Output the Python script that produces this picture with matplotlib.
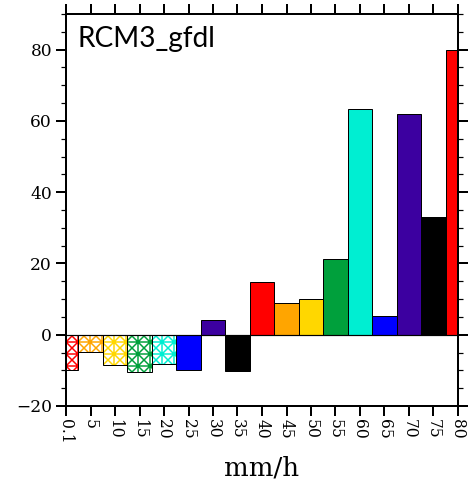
import numpy as np
import matplotlib
matplotlib.use("Agg")
import matplotlib.pyplot as plt
from matplotlib.ticker import MultipleLocator

# Precipitation-intensity bins (mm/h) and the change in each bin
bins = ["0.1", "5", "10", "15", "20", "25", "30", "35", "40",
        "45", "50", "55", "60", "65", "70", "75", "80"]
change = [-10.0, -4.8, -8.5, -10.5, -8.3, -10.0, 4.2, -10.3, 14.9,
          9.0, 10.0, 21.3, 63.3, 5.3, 61.8, 33.0, 80.0]
colors = ["#ff0000", "#ffa500", "#ffd700", "#00a03c", "#00eed2", "#0000ff",
          "#3c00a0", "#000000", "#ff0000", "#ffa500", "#ffd700", "#00a03c",
          "#00eed2", "#0000ff", "#3c00a0", "#000000", "#ff0000"]
hatched = [True, True, True, True, True, False, False, False, False,
           False, False, False, False, False, False, False, False]
panel_label = "RCM3_gfdl"
x_label = "mm/h"

plt.rcParams["hatch.linewidth"] = 1.5

W, H, DPI = 475, 483, 72
fig = plt.figure(figsize=(W / DPI, H / DPI), dpi=DPI)
ax = fig.add_axes([66 / W, (H - 406) / H, 392 / W, 392 / H])

x = np.arange(len(bins))
for xi, v, c, h in zip(x, change, colors, hatched):
    if h:
        # square grid with a cross in every cell
        ax.bar(xi, v, width=1.0, facecolor="white", edgecolor=c,
               hatch="xx+", linewidth=0, zorder=2)
        ax.bar(xi, v, width=1.0, facecolor="none", edgecolor="black",
               linewidth=1.0, zorder=3)
    else:
        ax.bar(xi, v, width=1.0, facecolor=c, edgecolor="black",
               linewidth=1.0, zorder=2)

ax.set_xlim(0, len(bins) - 1)
ax.set_ylim(-20, 90)
ax.set_xticks(x)
ax.set_xticklabels(bins, rotation=-90, family="DejaVu Serif", fontsize=15.5)
ax.yaxis.set_major_locator(MultipleLocator(20))
ax.yaxis.set_minor_locator(MultipleLocator(5))
for lab in ax.get_yticklabels():
    lab.set_family("DejaVu Serif")
    lab.set_fontsize(17)

ax.tick_params(axis="both", which="major", direction="out", length=10,
               width=2, top=True, right=True, pad=4)
ax.tick_params(axis="y", which="minor", direction="out", length=5,
               width=1.2, right=True)
ax.tick_params(axis="x", which="major", pad=3)
for s in ax.spines.values():
    s.set_linewidth(2)

ax.axhline(0, color="black", linewidth=1.2, zorder=4)

ax.text(11 / 392, 1 - 12 / 392, panel_label, transform=ax.transAxes,
        family="Lato", fontsize=28, va="top", ha="left", zorder=5)

fig.text(262 / W, 1 - 475 / H, x_label, family="DejaVu Serif",
         fontsize=26, ha="center", va="baseline")

fig.savefig("out.png", dpi=DPI)
